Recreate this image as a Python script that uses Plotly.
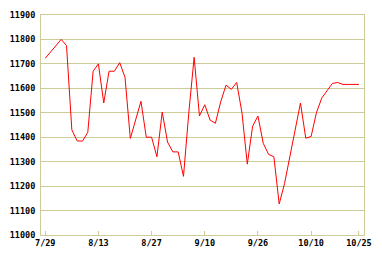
import plotly.graph_objects as go

prices = [11723, 11748, 11774, 11800, 11775, 11430, 11385, 11384, 11420, 11670,
          11700, 11540, 11670, 11670, 11705, 11645, 11395, 11470, 11547, 11400,
          11400, 11320, 11503, 11380, 11340, 11340, 11240, 11500, 11727, 11487,
          11533, 11470, 11457, 11545, 11613, 11596, 11624, 11500, 11290, 11445,
          11487, 11375, 11330, 11320, 11127, 11210, 11322, 11431, 11540, 11396,
          11403, 11500, 11560, 11590, 11620, 11624, 11616, 11616, 11616, 11616]
tick_pos = [0, 10, 20, 30, 40, 50, 59]
tick_labels = ["7/29", "8/13", "8/27", "9/10", "9/26", "10/10", "10/25"]
y_ticks = [11000, 11100, 11200, 11300, 11400, 11500, 11600, 11700, 11800, 11900]

grid = "#cccc99"
font = dict(family="DejaVu Sans Mono", size=8.5, color="black", weight="bold")

fig = go.Figure(go.Scatter(x=list(range(len(prices))), y=prices, mode="lines",
                           line=dict(color="#ff0000", width=1)))
fig.update_layout(
    width=382, height=258, margin=dict(l=40, r=11, t=10, b=23),
    paper_bgcolor="white", plot_bgcolor="white", showlegend=False,
)
fig.update_xaxes(range=[-0.8, 59.95], tickvals=tick_pos, ticktext=tick_labels,
                 showgrid=False, zeroline=False, ticks="inside", ticklen=4,
                 tickcolor=grid, tickfont=font, showline=True, linecolor=grid,
                 linewidth=1, mirror=True)
fig.update_yaxes(range=[11000, 11900], tickvals=y_ticks, showgrid=True,
                 gridcolor=grid, gridwidth=1, zeroline=False, tickfont=font,
                 showline=True, linecolor=grid, linewidth=1, mirror=True,
                 ticklabelstandoff=3, tickformat="d")
fig.write_html("out.html")
